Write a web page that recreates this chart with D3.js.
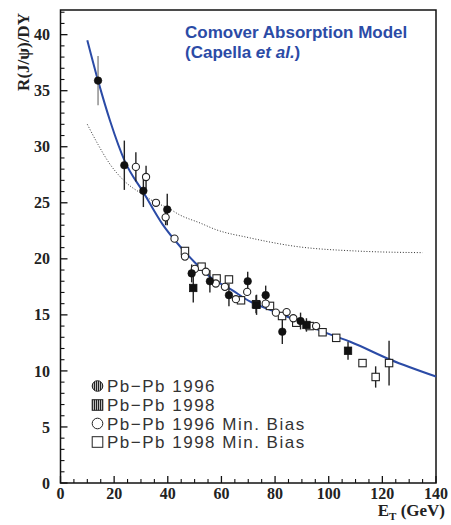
<!DOCTYPE html>
<html><head><meta charset="utf-8">
<script src="https://cdn.jsdelivr.net/npm/d3@7"></script>
<style>body{margin:0;background:#fff}svg{display:block}</style>
</head><body>
<script>
// ---- data ----
const xTicks = [0, 20, 40, 60, 80, 100, 120, 140];
const yTicks = [0, 5, 10, 15, 20, 25, 30, 35, 40];
const curveET = [10, 14, 18.5, 24, 31, 38, 44.6, 50, 55.7, 64, 70.6, 80, 89, 100, 108, 123, 140];
const curveR  = [39.5, 35.9, 32.3, 28.7, 25.9, 23.1, 21.1, 19.7, 18.4, 17.2, 16.2, 15.3, 14.4, 13.3, 12.6, 11.0, 9.5];
const dotET = [10, 14, 18, 24, 31, 35.6, 39.6, 44.6, 52, 58, 70, 88, 110, 135];
const dotR  = [32.0, 30.2, 28.6, 26.9, 25.7, 25.0, 24.6, 23.9, 23.2, 22.6, 21.9, 21.1, 20.7, 20.55];
// Pb-Pb 1996 (filled circles): ET, R, error
const pb96ET  = [14.0, 23.8, 30.9, 39.8, 48.9, 55.7, 62.8, 69.8, 76.5, 82.7, 89.5];
const pb96R   = [35.9, 28.35, 26.07, 24.4, 18.7, 18.0, 16.76, 18.0, 16.76, 13.5, 14.45];
const pb96Err = [2.2, 2.2, 1.45, 1.4, 0.8, 1.0, 1.0, 0.85, 0.85, 1.1, 0.75];
// Pb-Pb 1998 (filled squares)
const pb98ET  = [49.5, 73.1, 91.7, 107.2];
const pb98R   = [17.4, 15.9, 14.1, 11.8];
const pb98Err = [1.3, 0.9, 0.6, 0.8];
// Pb-Pb 1996 Min. Bias (open circles)
const mb96ET  = [28.1, 31.9, 35.6, 39.2, 42.5, 46.4, 50.1, 54.2, 57.9, 61.3, 65.4, 69.6, 76.5, 80.3, 84.3, 86.8, 95.3];
const mb96R   = [28.2, 27.3, 25.0, 23.7, 21.8, 20.2, 19.1, 18.85, 17.8, 17.5, 16.4, 17.05, 16.0, 15.2, 15.25, 14.7, 14.0];
const mb96Err = [1.3, 1.0, 0.3, 0.7, 0.2, 0.3, 0.3, 0.3, 0.3, 0.3, 0.3, 0.3, 0.3, 0.3, 0.3, 0.3, 0.3];
// Pb-Pb 1998 Min. Bias (open squares)
const mb98ET  = [46.4, 52.6, 58.2, 62.8, 67.3, 72.9, 78.1, 82.6, 87.9, 92.9, 97.7, 102.8, 112.6, 117.5, 122.5];
const mb98R   = [20.7, 19.3, 18.25, 18.16, 16.3, 15.95, 15.8, 14.9, 14.3, 14.0, 13.45, 12.95, 10.7, 9.46, 10.7];
const mb98Err = [0.2, 0.2, 0.2, 0.2, 0.2, 0.8, 0.2, 0.2, 0.2, 0.2, 0.2, 0.2, 0.2, 0.95, 2.0];
const legendLabels = ["Pb\u2212Pb 1996", "Pb\u2212Pb 1998", "Pb\u2212Pb 1996 Min. Bias", "Pb\u2212Pb 1998 Min. Bias"];

// ---- drawing ----
const W = 451, H = 525;
const blue = "#2b4ba6";
const svg = d3.select("body").append("svg").attr("width", W).attr("height", H);
const x = d3.scaleLinear().domain([0, 140]).range([60.5, 436]);
const y = d3.scaleLinear().domain([0, 42.2]).range([483, 10]);

const defs = svg.append("defs");
const pat = defs.append("pattern").attr("id", "vstripe").attr("patternUnits", "userSpaceOnUse")
  .attr("width", 2).attr("height", 4);
pat.append("rect").attr("width", 2).attr("height", 4).attr("fill", "#bbb");
pat.append("rect").attr("width", 1).attr("height", 4).attr("fill", "#222");

// frame
svg.append("rect").attr("x", x(0)).attr("y", y(42.2)).attr("width", x(140) - x(0)).attr("height", y(0) - y(42.2))
  .attr("fill", "none").attr("stroke", "#111").attr("stroke-width", 1.5);

// axes (ticks inward)
const serif = "'Liberation Serif', 'DejaVu Serif', serif";
const yMinor = d3.range(0, 43, 1).filter(v => v % 5 !== 0);
const xMinor = d3.range(0, 141, 5).filter(v => v % 20 !== 0);
const gy = svg.append("g");
gy.selectAll("line.maj").data(yTicks).join("line").attr("x1", x(0)).attr("x2", x(0) + 7)
  .attr("y1", d => y(d)).attr("y2", d => y(d)).attr("stroke", "#111").attr("stroke-width", 1.3);
gy.selectAll("line.min").data(yMinor).join("line").attr("class", "min").attr("x1", x(0)).attr("x2", x(0) + 4)
  .attr("y1", d => y(d)).attr("y2", d => y(d)).attr("stroke", "#111").attr("stroke-width", 1.1);
gy.selectAll("text").data(yTicks).join("text").attr("x", 50).attr("y", d => y(d)).attr("dy", "0.35em")
  .attr("text-anchor", "end").attr("font-family", serif).attr("font-weight", "bold").attr("font-size", 16)
  .attr("fill", "#222").text(d => d);
const gx = svg.append("g");
gx.selectAll("line.maj").data(xTicks).join("line").attr("x1", d => x(d)).attr("x2", d => x(d))
  .attr("y1", y(0)).attr("y2", y(0) - 7).attr("stroke", "#111").attr("stroke-width", 1.3);
gx.selectAll("line.min").data(xMinor).join("line").attr("class", "min").attr("x1", d => x(d)).attr("x2", d => x(d))
  .attr("y1", y(0)).attr("y2", y(0) - 4).attr("stroke", "#111").attr("stroke-width", 1.1);
gx.selectAll("text").data(xTicks).join("text").attr("x", d => x(d)).attr("y", 499)
  .attr("text-anchor", "middle").attr("font-family", serif).attr("font-weight", "bold").attr("font-size", 16)
  .attr("fill", "#222").text(d => d);

// axis titles
svg.append("text").attr("transform", "translate(29,52) rotate(-90)").attr("text-anchor", "middle")
  .attr("font-family", serif).attr("font-weight", "bold").attr("font-size", 17).attr("fill", "#222")
  .text("R(J/\u03c8)/DY");
const xl = svg.append("text").attr("x", 445).attr("y", 516).attr("text-anchor", "end")
  .attr("font-family", serif).attr("font-weight", "bold").attr("font-size", 17).attr("fill", "#222");
xl.append("tspan").text("E");
xl.append("tspan").attr("dy", 4).attr("font-size", 11).text("T");
xl.append("tspan").attr("dy", -4).text(" (GeV)");

// model title
const tt = svg.append("g").attr("font-family", "'Liberation Sans', Arial, sans-serif").attr("font-weight", "bold")
  .attr("font-size", 17).attr("fill", blue);
tt.append("text").attr("x", 185).attr("y", 38).text("Comover Absorption Model");
const t2 = tt.append("text").attr("x", 185).attr("y", 58);
t2.append("tspan").text("(Capella ");
t2.append("tspan").attr("font-style", "italic").text("et al.");
t2.append("tspan").text(")");

// curves
const line = d3.line().x(d => x(d[0])).y(d => y(d[1])).curve(d3.curveMonotoneX);
svg.append("path").attr("d", line(d3.zip(dotET, dotR))).attr("fill", "none").attr("stroke", "#333")
  .attr("stroke-width", 1).attr("stroke-dasharray", "1,1.8");
svg.append("path").attr("d", line(d3.zip(curveET, curveR))).attr("fill", "none").attr("stroke", blue)
  .attr("stroke-width", 2);

// data
function errBars(ex, ry, er) {
  svg.append("g").selectAll("line").data(d3.zip(ex, ry, er)).join("line")
    .attr("x1", d => x(d[0])).attr("x2", d => x(d[0]))
    .attr("y1", d => y(d[1] + d[2])).attr("y2", d => y(d[1] - d[2]))
    .attr("stroke", (d, i) => (d[0] < 20 ? "#888" : "#222")).attr("stroke-width", 1.4);
}
errBars(mb98ET, mb98R, mb98Err);
errBars(mb96ET, mb96R, mb96Err);
errBars(pb98ET, pb98R, pb98Err);
errBars(pb96ET, pb96R, pb96Err);

svg.append("g").selectAll("rect").data(d3.zip(mb98ET, mb98R)).join("rect")
  .attr("x", d => x(d[0]) - 3.7).attr("y", d => y(d[1]) - 3.7).attr("width", 7.4).attr("height", 7.4)
  .attr("fill", "#fff").attr("stroke", "#222").attr("stroke-width", 1.1);
svg.append("g").selectAll("circle").data(d3.zip(mb96ET, mb96R)).join("circle")
  .attr("cx", d => x(d[0])).attr("cy", d => y(d[1])).attr("r", 3.6)
  .attr("fill", "#fff").attr("stroke", "#222").attr("stroke-width", 1.1);
svg.append("g").selectAll("rect").data(d3.zip(pb98ET, pb98R)).join("rect")
  .attr("x", d => x(d[0]) - 3.7).attr("y", d => y(d[1]) - 3.7).attr("width", 7.4).attr("height", 7.4)
  .attr("fill", "#111").attr("stroke", "#111").attr("stroke-width", 0.8);
svg.append("g").selectAll("circle").data(d3.zip(pb96ET, pb96R)).join("circle")
  .attr("cx", d => x(d[0])).attr("cy", d => y(d[1])).attr("r", 3.8)
  .attr("fill", "#111").attr("stroke", "#111").attr("stroke-width", 0.6);

// legend
const lg = svg.append("g");
const rowY = [386, 405, 423.5, 442];
const mx = 97.5;
lg.append("circle").attr("cx", mx).attr("cy", rowY[0]).attr("r", 5.3).attr("fill", "url(#vstripe)").attr("stroke", "#222").attr("stroke-width", 1);
lg.append("rect").attr("x", mx - 5.3).attr("y", rowY[1] - 5.3).attr("width", 10.6).attr("height", 10.6).attr("fill", "url(#vstripe)").attr("stroke", "#222").attr("stroke-width", 1);
lg.append("circle").attr("cx", mx).attr("cy", rowY[2]).attr("r", 5.3).attr("fill", "none").attr("stroke", "#222").attr("stroke-width", 1);
lg.append("rect").attr("x", mx - 5.3).attr("y", rowY[3] - 5.3).attr("width", 10.6).attr("height", 10.6).attr("fill", "none").attr("stroke", "#222").attr("stroke-width", 1);
lg.selectAll("text").data(legendLabels).join("text").attr("x", 107).attr("y", (d, i) => rowY[i]).attr("dy", "0.36em")
  .attr("font-family", "'Liberation Sans', Arial, sans-serif").attr("font-size", 17).attr("letter-spacing", 1.5)
  .attr("fill", "#333").text(d => d);
</script>
</body></html>
